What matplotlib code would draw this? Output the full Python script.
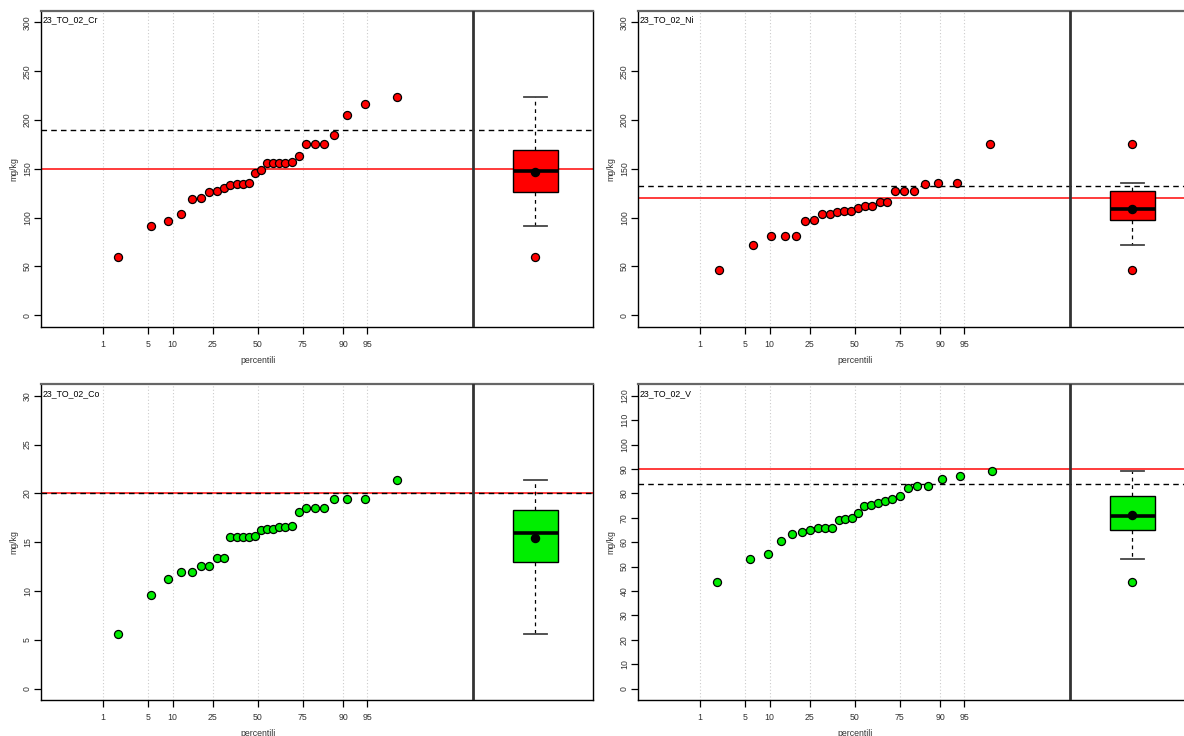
import numpy as np
import matplotlib.pyplot as plt
from statistics import NormalDist

plt.rcParams['font.family'] = ['Liberation Sans', 'DejaVu Sans']
plt.rcParams['font.size'] = 6.3

# percentile ticks on the normal probability axis
pct_ticks = [1, 5, 10, 25, 50, 75, 90, 95]

cr_values = [60, 91, 97, 104, 119, 120, 126, 127, 130, 133, 134, 134, 136, 146,
             149, 156, 156, 156, 156, 157, 163, 175, 175, 175, 185, 205, 216, 224]
ni_values = [46, 72, 81, 81, 81, 97, 98, 104, 104, 106, 107, 107, 110, 112,
             112, 116, 116, 127, 127, 127, 134, 136, 136, 175]
co_values = [5.6, 9.6, 11.2, 11.9, 11.9, 12.6, 12.6, 13.4, 13.4, 15.5, 15.5, 15.5,
             15.5, 15.6, 16.2, 16.3, 16.3, 16.6, 16.6, 16.7, 18.1, 18.5, 18.5, 18.5,
             19.4, 19.4, 19.4, 21.4]
v_values = [43.5, 53, 55, 60.3, 63.2, 64, 64.8, 66, 66, 66, 69, 69.3, 69.8, 71.9,
            75, 75.3, 75.9, 76.9, 77.8, 78.8, 82, 83, 83, 85.8, 87, 89]

names = ["23_TO_02_Cr", "23_TO_02_Ni", "23_TO_02_Co", "23_TO_02_V"]
all_values = [cr_values, ni_values, co_values, v_values]
limit_red = [150, 120, 20, 90]      # red reference line
limit_dash = [190, 132, 20, 84]     # dashed reference line
y_max = [300, 300, 30, 120]
y_step = [50, 50, 5, 10]
fills = ['#ff0000', '#ff0000', '#00ee00', '#00ee00']

nd = NormalDist()


def fivenum(v):
    x = np.sort(v)
    n = len(x)
    n4 = np.floor((n + 3) / 2) / 2
    d = np.array([1, n4, (n + 1) / 2, n + 1 - n4, n])
    return 0.5 * (x[np.floor(d).astype(int) - 1] + x[np.ceil(d).astype(int) - 1])


def box_stats(v):
    x = np.sort(np.array(v, dtype=float))
    _, q1, med, q3, _ = fivenum(x)
    iqr = q3 - q1
    inside = x[(x >= q1 - 1.5 * iqr) & (x <= q3 + 1.5 * iqr)]
    fliers = x[(x < q1 - 1.5 * iqr) | (x > q3 + 1.5 * iqr)]
    return dict(med=med, q1=q1, q3=q3, whislo=inside.min(), whishi=inside.max(),
                fliers=fliers, mean=x.mean())


W, H = 1184, 736
fig = plt.figure(figsize=(W / 100, H / 100), dpi=100)

# panel rectangles in pixels: left, top
lefts = [41, 638, 41, 638]
tops = [10.7, 10.7, 384, 384]
pw, ph = 552, 316.3

xlim = (-3.26, 5.04)
divider = 3.236
box_pos = 4.175

for k in range(4):
    ax = fig.add_axes([lefts[k] / W, 1 - (tops[k] + ph) / H, pw / W, ph / H])
    vals = np.sort(all_values[k])
    n = len(vals)
    zpos = [nd.inv_cdf((i + 0.5) / n) for i in range(n)]
    zticks = [nd.inv_cdf(p / 100) for p in pct_ticks]

    ax.vlines(zticks, -1e4, 1e4, colors='#cccccc', linestyles=(0, (1, 2)), lw=0.8, zorder=1)
    ax.axhline(limit_red[k], color='#ff3b3b', lw=1.4, zorder=2)
    ax.axhline(limit_dash[k], color='black', ls=(0, (4, 3)), lw=1.0, zorder=2.5)
    ax.axvline(divider, color='#333333', lw=2.0, zorder=3)

    ax.plot(zpos, vals, 'o', ms=5.8, mfc=fills[k], mec='black', mew=0.9, zorder=5)

    st = box_stats(vals)
    ax.bxp([st], positions=[box_pos], widths=0.67, patch_artist=True, showmeans=True,
           manage_ticks=False,
           boxprops=dict(facecolor=fills[k], edgecolor='black', lw=1.0),
           medianprops=dict(color='black', lw=2.6),
           whiskerprops=dict(color='black', ls=(0, (3, 3)), lw=0.9),
           capprops=dict(color='#444444', lw=1.3),
           meanprops=dict(marker='o', mfc='black', mec='black', ms=5.8),
           flierprops=dict(marker='o', mfc=fills[k], mec='black', mew=0.9, ms=5.8))

    ymx = y_max[k]
    pad = 0.04 * ymx
    ax.set_ylim(-pad, ymx + pad)
    ax.set_xlim(*xlim)
    yt = np.arange(0, ymx + y_step[k] / 2, y_step[k])
    ax.set_yticks(yt)
    ax.set_yticklabels([str(int(t)) for t in yt], rotation=90, va='center')
    ax.set_xticks(zticks)
    ax.set_xticklabels([str(p) for p in pct_ticks])
    ax.tick_params(axis='both', direction='out', length=5, width=0.9, labelsize=6.3,
                   labelcolor='#333333')
    ax.tick_params(axis='x', pad=4.5)
    ax.tick_params(axis='y', pad=1.5)

    for side in ['left', 'bottom', 'right']:
        ax.spines[side].set_linewidth(1.0)
        ax.spines[side].set_color('black')
    ax.spines['top'].set_color('#666666')
    ax.spines['top'].set_linewidth(1.6)

    ax.annotate(names[k], xy=(0, 1), xycoords='axes fraction', xytext=(2, -5),
                textcoords='offset pixels', ha='left', va='top', fontsize=6.3, color='black')
    ax.annotate('percentili', xy=(0, 0), xycoords=('data', 'axes fraction'),
                xytext=(0, -33), textcoords='offset pixels', ha='center', va='center',
                fontsize=6.3, color='#333333')
    ax.annotate('mg/kg', xy=(0, 0.5), xycoords='axes fraction', xytext=(-27, 0),
                textcoords='offset pixels', ha='center', va='center', rotation=90,
                fontsize=6.3, color='#333333')

fig.savefig('out.png', dpi=100)
